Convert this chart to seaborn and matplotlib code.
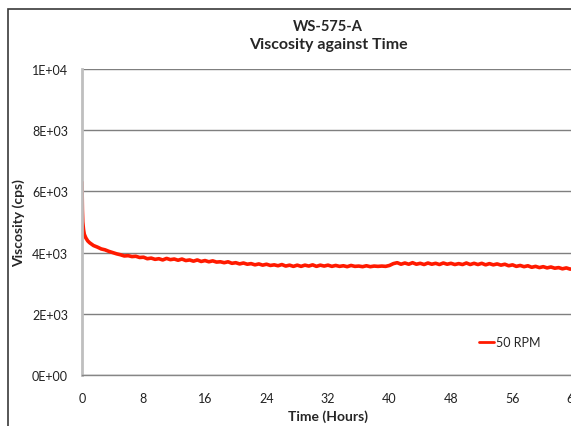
import numpy as np
import pandas as pd
import matplotlib
matplotlib.use("Agg")
import matplotlib.pyplot as plt
import seaborn as sns
from matplotlib.patches import Rectangle

# ---------------- Data ------------------

hours = [0, 0.05, 0.1, 0.2, 0.3, 0.5, 0.75, 1.0, 1.5, 2.0, 2.5, 3.0, 3.5, 4.0,
         4.5, 5.0, 5.5, 6.0, 6.5, 7.0, 7.5, 8.0, 8.5, 9.0, 9.5, 10.0,
         10.5, 11.0, 11.5, 12.0, 12.5, 13.0, 13.5, 14.0, 14.5, 15.0,
         15.5, 16.0, 16.5, 17.0, 17.5, 18.0, 18.5, 19.0, 19.5, 20.0,
         20.5, 21.0, 21.5, 22.0, 22.5, 23.0, 23.5, 24.0, 24.5, 25.0,
         25.5, 26.0, 26.5, 27.0, 27.5, 28.0, 28.5, 29.0, 29.5, 30.0,
         30.5, 31.0, 31.5, 32.0, 32.5, 33.0, 33.5, 34.0, 34.5, 35.0,
         35.5, 36.0, 36.5, 37.0, 37.5, 38.0, 38.5, 39.0, 39.5, 40.0,
         40.5, 41.0, 41.5, 42.0, 42.5, 43.0, 43.5, 44.0, 44.5, 45.0,
         45.5, 46.0, 46.5, 47.0, 47.5, 48.0, 48.5, 49.0, 49.5, 50.0,
         50.5, 51.0, 51.5, 52.0, 52.5, 53.0, 53.5, 54.0, 54.5, 55.0,
         55.5, 56.0, 56.5, 57.0, 57.5, 58.0, 58.5, 59.0, 59.5, 60.0,
         60.5, 61.0, 61.5, 62.0, 62.5, 63.0, 63.5, 64.0]

viscosity = [6300, 5400, 5000, 4750, 4600, 4480, 4380, 4320, 4230, 4180, 4120, 4090, 4040, 4000,
             3960, 3930, 3890, 3900, 3870, 3880, 3840, 3850, 3800, 3820, 3780, 3800,
             3760, 3810, 3770, 3790, 3750, 3790, 3740, 3760, 3720, 3760,
             3710, 3740, 3700, 3730, 3690, 3700, 3670, 3700, 3650, 3670,
             3630, 3660, 3620, 3640, 3600, 3630, 3590, 3620, 3580, 3600,
             3570, 3610, 3560, 3590, 3550, 3590, 3550, 3590, 3560, 3600,
             3550, 3590, 3560, 3590, 3550, 3580, 3550, 3570, 3540, 3580,
             3550, 3560, 3540, 3570, 3540, 3560, 3550, 3560, 3550, 3580,
             3640, 3670, 3620, 3660, 3620, 3670, 3620, 3650, 3610, 3660,
             3620, 3650, 3610, 3660, 3620, 3650, 3610, 3640, 3610, 3660,
             3610, 3650, 3610, 3650, 3600, 3640, 3600, 3630, 3590, 3620,
             3570, 3600, 3550, 3580, 3540, 3570, 3520, 3550, 3510, 3540,
             3500, 3530, 3490, 3510, 3470, 3500, 3460, 3480]

series_name = "50 RPM"
x_ticks = [0, 8, 16, 24, 32, 40, 48, 56, 64]
y_ticks = [0, 2000, 4000, 6000, 8000, 10000]
y_tick_labels = ["0E+00", "2E+03", "4E+03", "6E+03", "8E+03", "1E+04"]

df = pd.DataFrame({"Time": hours, "Viscosity": viscosity, "Series": series_name})

# ---------------- Plot ------------------

sns.set_theme(style="white")
plt.rcParams["font.family"] = ["Lato", "DejaVu Sans"]

fig = plt.figure(figsize=(5.71, 4.27), dpi=100)
ax = fig.add_axes([82 / 571, 51 / 427, 492 / 571, 306 / 427])

sns.lineplot(data=df, x="Time", y="Viscosity", hue="Series",
             palette=["#FF1A00"], linewidth=2.6, ax=ax)

ax.set_xlim(0, 64)
ax.set_ylim(0, 10000)
ax.set_xticks(x_ticks)
ax.set_yticks(y_ticks)
ax.set_yticklabels(y_tick_labels)
ax.tick_params(axis="both", length=0, labelsize=9, colors="#222222")
ax.tick_params(axis="x", pad=12)
ax.tick_params(axis="y", pad=10)

ax.grid(axis="y", color="#7F7F7F", linewidth=1)
ax.set_axisbelow(True)
for side in ["top", "right"]:
    ax.spines[side].set_visible(False)
ax.spines["left"].set_color("#BFBFBF")
ax.spines["left"].set_linewidth(2)
ax.spines["bottom"].set_color("#868686")
ax.spines["bottom"].set_linewidth(1)

ax.set_xlabel("Time (Hours)", fontsize=10, fontweight="bold", labelpad=4)
ax.set_ylabel("Viscosity (cps)", fontsize=10, fontweight="bold")
ax.yaxis.set_label_coords((25 - 82) / 492, 0.5)

fig.text(328 / 571, 1 - 27 / 427, "WS-575-A", ha="center", va="center",
         fontsize=10.5, fontweight="bold")
fig.text(328 / 571, 1 - 45 / 427, "Viscosity against Time", ha="center", va="center",
         fontsize=11.5, fontweight="bold")

leg = ax.legend(loc="center left", bbox_to_anchor=((474 - 82) / 492, (376 - 343) / 306),
                frameon=False, fontsize=9, handlelength=1.2, handletextpad=0.15,
                borderaxespad=0)
for h in leg.get_lines():
    h.set_linewidth(2)

# chart area border (cut off on the right and bottom)
fig.add_artist(Rectangle((8 / 571, -0.1), 1.2, 1.1 - 10 / 427, transform=fig.transFigure,
                         fill=False, edgecolor="#3A3A3A", linewidth=1.2))

fig.savefig("out.png", dpi=100)
